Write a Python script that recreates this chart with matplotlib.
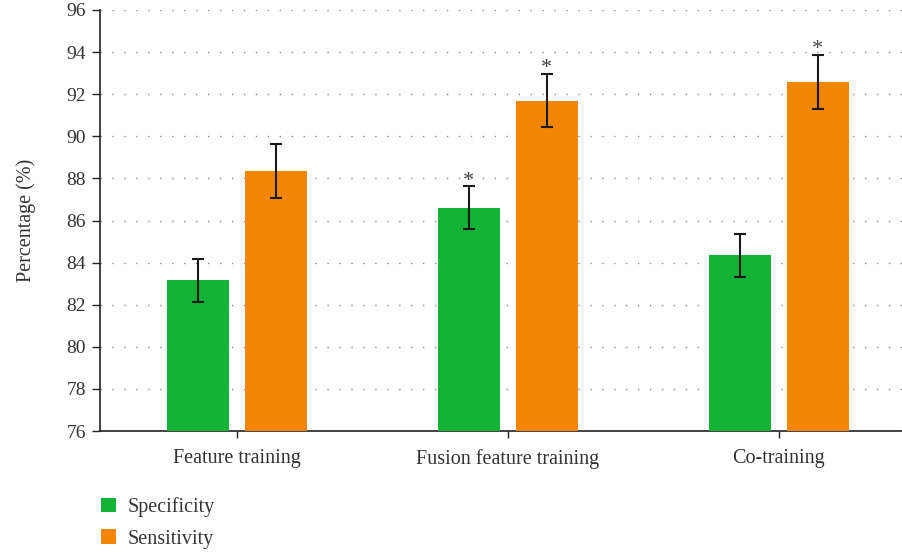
import numpy as np
import matplotlib.pyplot as plt
from matplotlib.patches import Patch

plt.rcParams['font.family'] = ['Liberation Serif', 'DejaVu Serif']

# datos
grupos = ["Feature training", "Fusion feature training", "Co-training"]
especificidad = [83.15, 86.6, 84.35]
err_esp = [1.02, 1.02, 1.02]
sensibilidad = [88.35, 91.7, 92.6]
err_sen = [1.28, 1.28, 1.28]
# marcas de significancia (*) por serie
sig_esp = [False, True, False]
sig_sen = [False, True, True]

verde = "#12b336"
naranja = "#f38604"
texto = "#333333"

fig = plt.figure(figsize=(9.02, 5.54), dpi=100)
ax = fig.add_axes([100 / 902., 123 / 554., 802 / 902., 421 / 554.])

x = np.arange(len(grupos))
ancho = 0.228
sep = 0.144

ax.bar(x - sep, especificidad, ancho, color=verde, zorder=3)
ax.bar(x + sep, sensibilidad, ancho, color=naranja, zorder=3)
ax.errorbar(x - sep, especificidad, yerr=err_esp, fmt="none", ecolor="#1a1a1a",
            elinewidth=1.5, capsize=4.5, capthick=1.5, zorder=4)
ax.errorbar(x + sep, sensibilidad, yerr=err_sen, fmt="none", ecolor="#1a1a1a",
            elinewidth=1.5, capsize=4.5, capthick=1.5, zorder=4)

# asteriscos sobre las barras significativas
for xs, vals, errs, sigs in [(x - sep, especificidad, err_esp, sig_esp),
                             (x + sep, sensibilidad, err_sen, sig_sen)]:
  for xi, v, e, s in zip(xs, vals, errs, sigs):
    if s:
      ax.annotate("*", (xi, v + e), xytext=(0, -3), textcoords="offset points",
                  ha="center", va="bottom", fontsize=16, color="#444444", zorder=5)

ax.set_xlim(-0.505, 2.455)
ax.set_ylim(76, 96)
ax.set_yticks(np.arange(76, 97, 2))
ax.set_xticks(x)
ax.set_xticklabels(grupos)

ax.yaxis.grid(True, linestyle=(0, (1, 7.6)), color="#888888", linewidth=1.0, zorder=0)
ax.spines["top"].set_visible(False)
ax.spines["right"].set_visible(False)
ax.spines["left"].set_bounds(76, 96)
for sp in ["left", "bottom"]:
  ax.spines[sp].set_color("#222222")
  ax.spines[sp].set_linewidth(1.2)

ax.tick_params(axis="y", direction="out", length=6, width=1, colors="#222222",
               labelsize=14, labelcolor=texto, pad=4)
ax.tick_params(axis="x", direction="out", length=5, width=1, colors="#222222",
               labelsize=14.5, labelcolor=texto, pad=8)
ax.set_ylabel("Percentage (%)", fontsize=14.5, color=texto, labelpad=22)

handles = [Patch(facecolor=verde, label="Specificity"),
           Patch(facecolor=naranja, label="Sensitivity")]
fig.legend(handles=handles, loc="upper left", bbox_to_anchor=(83 / 902., 1 - 479 / 554.),
           frameon=False, fontsize=14.5, handlelength=0.75, handleheight=0.75,
           handletextpad=0.55, labelspacing=0.6, labelcolor=texto)

plt.savefig("out.png", dpi=100)
